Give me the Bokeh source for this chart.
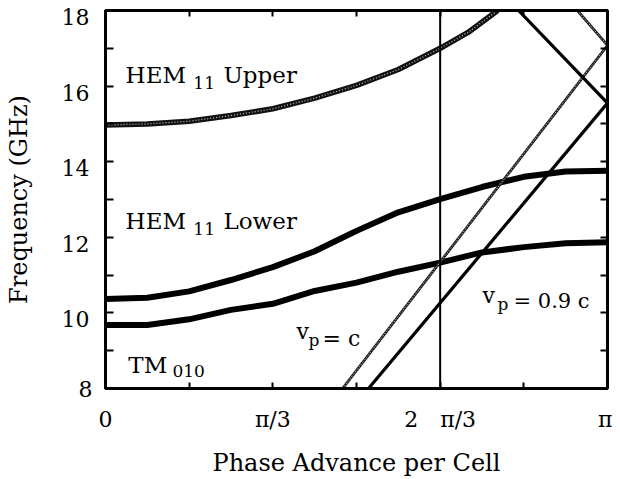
from bokeh.plotting import figure
from bokeh.models import Range1d, LinearAxis, FixedTicker, Label
from bokeh.embed import file_html
from bokeh.resources import INLINE

# ---- data (phase advance in degrees, frequency in GHz) ----
phase_upper = [0, 15, 30, 45, 60, 75, 90, 105, 120, 130, 140.6]
freq_hem_upper = [14.97, 15.0, 15.07, 15.22, 15.40, 15.68, 16.02, 16.44, 17.0, 17.42, 18.0]

phase_modes = [0, 15, 30, 45, 60, 75, 90, 105, 120, 135, 150, 165, 180]
freq_hem_lower = [10.37, 10.40, 10.57, 10.87, 11.21, 11.63, 12.17, 12.66, 13.01, 13.33, 13.60, 13.74, 13.76]
freq_tm010 = [9.68, 9.68, 9.83, 10.08, 10.24, 10.58, 10.80, 11.09, 11.33, 11.60, 11.74, 11.84, 11.87]

phase_vc = [85.0, 180.0]
freq_vc = [8.0, 17.08]
phase_vc_refl = [169.2, 180.0]
freq_vc_refl = [18.0, 17.08]

phase_v09c = [94.3, 180.0]
freq_v09c = [8.0, 15.55]
phase_v09c_refl = [148.1, 180.0]
freq_v09c_refl = [18.0, 15.55]

design_phase = [120, 120]
design_freq = [8, 18]

x_major_ticks = [0, 60, 120, 180]
x_tick_labels = ["0", "π/3", "2\u2003π/3", "π"]
x_minor_ticks = [30, 90, 150]
x_all_ticks = [0, 30, 60, 90, 120, 150, 180]
y_bottom_tick = [8]
y_bottom_label = ["8"]
y_label_ticks = [10, 12, 14, 16, 18]
y_tick_labels = ["10", "12", "14", "16", "18"]
y_all_ticks = [8, 9, 10, 11, 12, 13, 14, 15, 16, 17, 18]

FONT = "DejaVu Serif"
LABEL_SHIFT = 6.5 / 38.0   # the printed tick numbers sit ~6.5 px below their ticks

p = figure(width=612, height=479, x_range=Range1d(0, 180), y_range=Range1d(8, 18),
           output_backend="svg", toolbar_location=None,
           min_border_left=105, min_border_right=5, min_border_top=10, min_border_bottom=89)
p.grid.visible = False
p.outline_line_color = "black"
p.outline_line_width = 3
p.extra_y_ranges = {"ylab": Range1d(8 + LABEL_SHIFT, 18 + LABEL_SHIFT)}

# curves
p.line(phase_upper, freq_hem_upper, line_color="#111111", line_width=5.5)
p.line(phase_upper, freq_hem_upper, line_color="#bbbbbb", line_width=1.3, line_dash="1 2")
p.line(phase_modes, freq_hem_lower, line_color="black", line_width=6, line_cap="round")
p.line(phase_modes, freq_tm010, line_color="black", line_width=6, line_cap="round")

for xs, ys in ((phase_vc, freq_vc), (phase_vc_refl, freq_vc_refl)):
    p.line(xs, ys, line_color="#222222", line_width=2.8)
    p.line(xs, ys, line_color="#dddddd", line_width=1, line_dash="1 2")
for xs, ys in ((phase_v09c, freq_v09c), (phase_v09c_refl, freq_v09c_refl)):
    p.line(xs, ys, line_color="black", line_width=3.2)

p.line(design_phase, design_freq, line_color="black", line_width=2)

# axes
def style_axis(ax, tick_len):
    ax.axis_line_width = 3
    ax.axis_line_color = "black"
    ax.major_tick_line_width = 2
    ax.minor_tick_line_width = 2
    ax.major_tick_out = 0
    ax.minor_tick_out = 0
    ax.major_tick_in = tick_len
    ax.minor_tick_in = tick_len
    ax.major_label_text_font = FONT
    ax.major_label_text_color = "black"
    ax.axis_label_text_font = FONT
    ax.axis_label_text_font_style = "normal"
    ax.axis_label_text_color = "black"
    ax.axis_label_text_font_size = "24px"

xa = p.xaxis[0]
style_axis(xa, 6)
xa.ticker = FixedTicker(ticks=x_major_ticks, minor_ticks=x_minor_ticks)
xa.major_label_overrides = dict(zip(x_major_ticks, x_tick_labels))
xa.major_label_text_font_size = "22px"
xa.major_label_standoff = 18
xa.axis_label = "Phase Advance per Cell"
xa.axis_label_standoff = 14

# left axis: ticks at the true positions (and the bottom "8")
ya = p.yaxis[0]
style_axis(ya, 8)
ya.ticker = FixedTicker(ticks=y_bottom_tick, minor_ticks=y_all_ticks)
ya.major_label_overrides = dict(zip(y_bottom_tick, y_bottom_label))
ya.major_label_text_font_size = "22px"
ya.major_label_standoff = 13

# left label axis: numbers + title, on a range shifted so the numbers sit below their ticks
ylab = LinearAxis(y_range_name="ylab", ticker=FixedTicker(ticks=y_label_ticks),
                  bounds=(8, 18))
style_axis(ylab, 0)
ylab.axis_line_color = None
ylab.major_tick_line_color = None
ylab.minor_tick_line_color = None
ylab.major_label_overrides = dict(zip(y_label_ticks, y_tick_labels))
ylab.major_label_text_font_size = "22px"
ylab.major_label_standoff = -14
ylab.axis_label = "Frequency (GHz)"
ylab.axis_label_standoff = 26
p.add_layout(ylab, "left")

top = LinearAxis(ticker=FixedTicker(ticks=x_all_ticks), major_label_standoff=0)
style_axis(top, 6)
top.major_label_text_color = None
top.major_label_text_font_size = "1px"
p.add_layout(top, "above")

right = LinearAxis(ticker=FixedTicker(ticks=[], minor_ticks=y_all_ticks), major_label_standoff=0)
style_axis(right, 7)
p.add_layout(right, "right")

# annotations
def lab(x, y, text, size):
    p.add_layout(Label(x=x, y=y, text=text, text_font=FONT, text_font_size=size,
                       text_color="black", text_align="left", text_baseline="alphabetic"))

lab(7.2, 16.29, "HEM", "23px")
lab(31.5, 16.08, "11", "17px")
lab(42.3, 16.29, "Upper", "23px")

lab(7.2, 12.42, "HEM", "23px")
lab(31.5, 12.21, "11", "17px")
lab(42.3, 12.42, "Lower", "23px")

lab(8.2, 8.63, "TM", "23px")
lab(24.0, 8.45, "010", "17px")

lab(68.5, 9.50, "v", "22px")
lab(72.8, 9.29, "p", "17px")
lab(77.8, 9.32, "= c", "22px")

lab(135.2, 10.45, "v", "22px")
lab(140.6, 10.24, "p", "17px")
lab(146.3, 10.32, "= 0.9 c", "21px")

open("out.html", "w").write(file_html(p, INLINE))
